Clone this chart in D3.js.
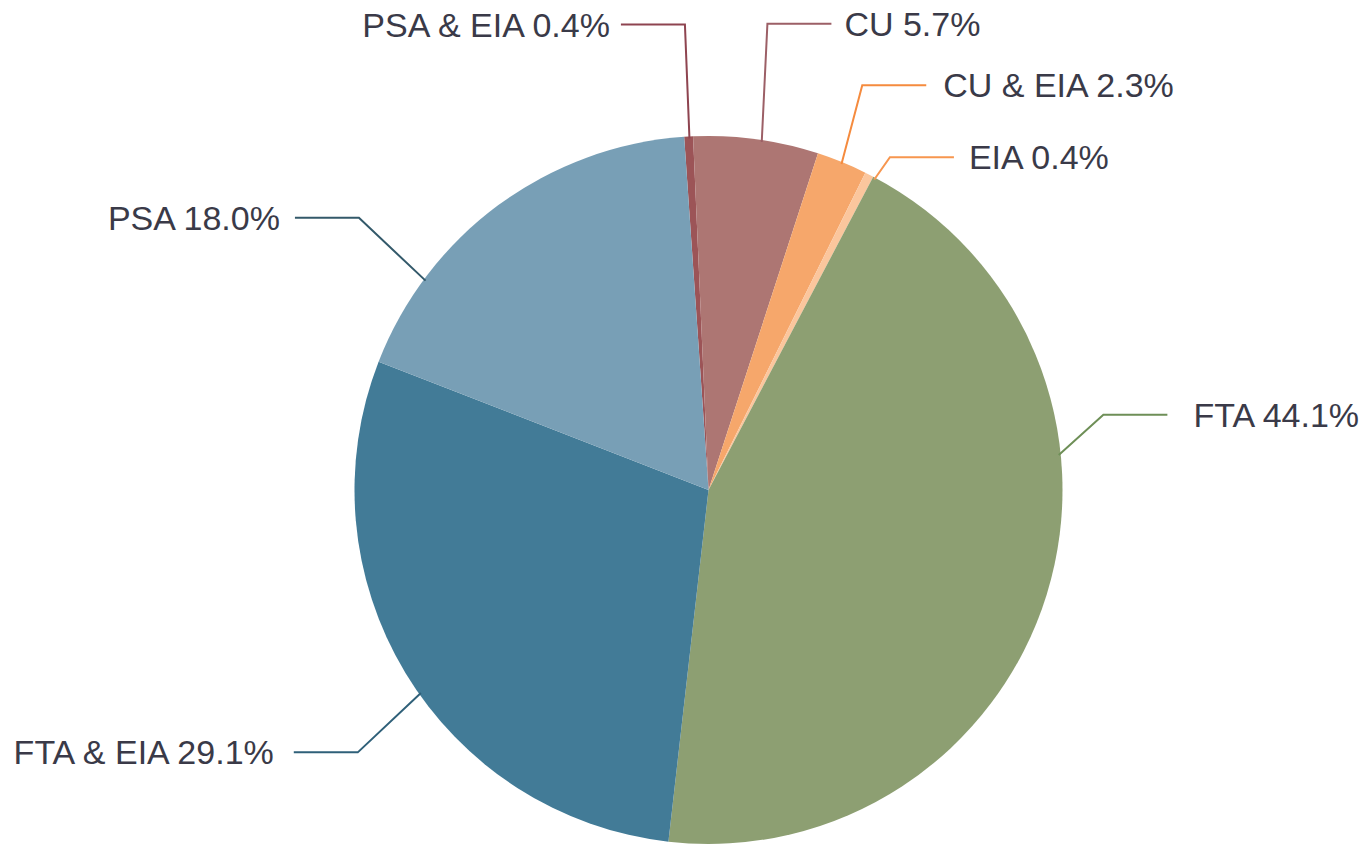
<!DOCTYPE html>
<html>
<head>
<meta charset="utf-8">
<script src="https://cdn.jsdelivr.net/npm/d3@7"></script>
<style>
  body { margin: 0; background: #fff; }
  text { font-family: "Liberation Sans", Arial, sans-serif; }
</style>
</head>
<body>
<div id="pie"></div>
<script>
// chart data (clockwise from just left of 12 o'clock)
const categories = ["PSA & EIA", "CU", "CU & EIA", "EIA", "FTA", "FTA & EIA", "PSA"];
const shares = [0.4, 5.7, 2.3, 0.4, 44.1, 29.1, 18.0];

const sliceColors = ["#9c5457", "#ad7673", "#f6a76b", "#fbc69d", "#8d9f72", "#427b97", "#789fb6"];
const lineColors  = ["#8e4450", "#9c5f66", "#f58b3e", "#f7964f", "#6e8f57", "#2f6079", "#33596a"];

// label leader layout: anchor angle on rim, elbow (angle, radius), side, text gap
const labelLayout = [
  {anchor: -3.1,   elbowA: -2.9,   elbowR: 466, side: -1, gap: 11},
  {anchor: 8.7,    elbowA: 7.2,    elbowR: 470, side: 1,  gap: 13},
  {anchor: 22.2,   elbowA: 20.8,   elbowR: 433, side: 1,  gap: 17},
  {anchor: 28.1,   elbowA: 28.6,   elbowR: 379, side: 1,  gap: 15},
  {anchor: 84.3,   elbowA: 79.2,   elbowR: 402, side: 1,  gap: 26},
  {anchor: -125.2, elbowA: -126.8, elbowR: 438, side: -1, gap: 20},
  {anchor: -53.5,  elbowA: -52.1,  elbowR: 443, side: -1, gap: 15}
];

const width = 1364;
const height = 845;
const cx = 708.5, cy = 490;
const radius = 354;
const hLen = 64;
const rad = Math.PI / 180;

const svg = d3.select("#pie")
  .append("svg")
  .attr("width", width)
  .attr("height", height)
  .attr("viewBox", [0, 0, width, height]);

const g = svg.append("g")
  .attr("transform", `translate(${cx},${cy})`);

const startAngle = -3.94 * rad;
const pie = d3.pie()
  .sort(null)
  .value(d => d)
  .startAngle(startAngle)
  .endAngle(startAngle + 2 * Math.PI);

const arc = d3.arc().innerRadius(0).outerRadius(radius);

const arcs = pie(shares);

// slices
g.selectAll(".slice")
  .data(arcs)
  .enter()
  .append("path")
    .attr("class", "slice")
    .attr("d", arc)
    .attr("fill", (d, i) => sliceColors[i]);

// polar helper: angle from 12 o'clock, clockwise
const polar = (deg, r) => [r * Math.sin(deg * rad), -r * Math.cos(deg * rad)];

// leader lines
g.selectAll(".leader")
  .data(labelLayout)
  .enter()
  .append("polyline")
    .attr("class", "leader")
    .attr("points", d => {
      const a = polar(d.anchor, radius - 2);
      const e = polar(d.elbowA, d.elbowR);
      const h = [e[0] + d.side * hLen, e[1]];
      return [a, e, h].map(p => p.join(",")).join(" ");
    })
    .attr("fill", "none")
    .attr("stroke", (d, i) => lineColors[i])
    .attr("stroke-width", 2);

// labels
const fmt = d3.format(".1f");
g.selectAll(".label")
  .data(labelLayout)
  .enter()
  .append("text")
    .attr("class", "label")
    .attr("x", d => polar(d.elbowA, d.elbowR)[0] + d.side * (hLen + d.gap))
    .attr("y", d => polar(d.elbowA, d.elbowR)[1] + 12)
    .attr("text-anchor", d => d.side < 0 ? "end" : "start")
    .attr("font-size", "34px")
    .attr("fill", "#3a3a48")
    .text((d, i) => categories[i] + " " + fmt(shares[i]) + "%");
</script>
</body>
</html>
